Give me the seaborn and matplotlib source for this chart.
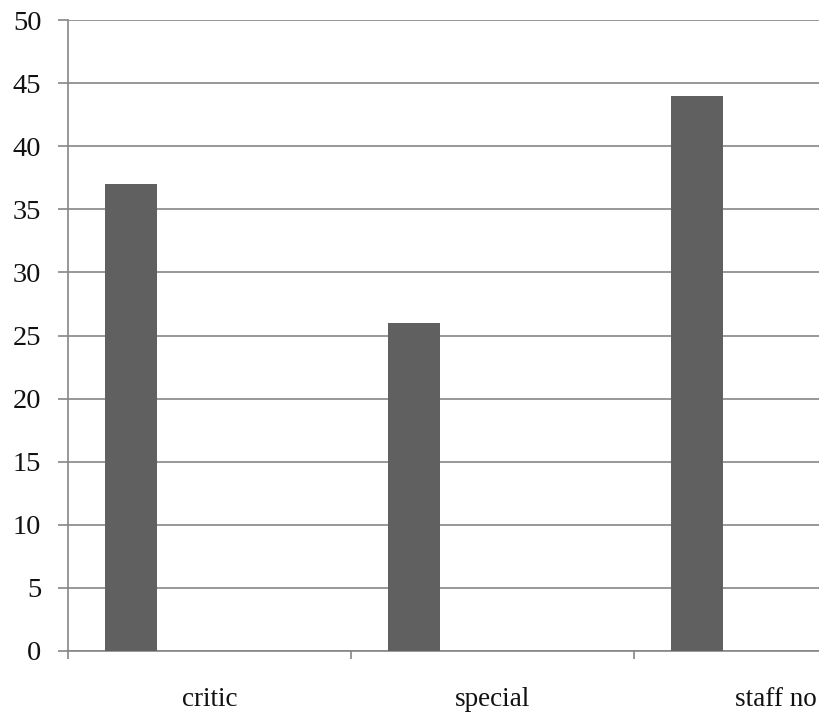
import matplotlib
matplotlib.use("Agg")
import matplotlib.pyplot as plt
from matplotlib.ticker import FixedLocator, MultipleLocator
import seaborn as sns
import pandas as pd

# Chart data
categories = ["critic", "special", "staff no"]
values = [37, 26, 44]
series = ["Series1", "Series2", "Series3", "Series4"]

df = pd.DataFrame({"category": categories, "value": values, "series": series[0]})

sns.set_theme(style="white")
plt.rcParams["font.family"] = ["Liberation Serif", "DejaVu Serif"]

W, H = 819, 713
fig = plt.figure(figsize=(W / 100, H / 100), dpi=100)
ax = fig.add_axes([68 / W, 1 - 651 / H, 1 - 68 / W, (651 - 20) / H])

grid_c = "#868686"
bar_c = "#606060"

sns.barplot(data=df, x="category", y="value", hue="series", hue_order=series,
            order=categories, palette=[bar_c] * 4, width=0.736, dodge=True,
            saturation=1, errorbar=None, legend=False, ax=ax, zorder=3,
            edgecolor="none", linewidth=0)

ax.set_ylim(0, 50)
ax.set_xlim(-0.5, -0.5 + (W - 68) / 283)
ax.yaxis.set_major_locator(MultipleLocator(5))
ax.set_xlabel("")
ax.set_ylabel("")

ax.grid(axis="y", color=grid_c, linewidth=1.2, zorder=0)
ax.grid(axis="x", visible=False)
for side in ["top", "right"]:
    ax.spines[side].set_visible(False)
for side in ["left", "bottom"]:
    ax.spines[side].set_color(grid_c)
    ax.spines[side].set_linewidth(1.2)

ax.tick_params(axis="y", which="major", left=True, length=7.2, width=1.2,
               color=grid_c, labelsize=20.5, pad=12, labelcolor="#111111")
ax.tick_params(axis="x", which="major", bottom=False, length=0,
               labelsize=19.5, pad=26, labelcolor="#111111")
ax.xaxis.set_minor_locator(FixedLocator([-0.5, 0.5, 1.5, 2.5]))
ax.tick_params(axis="x", which="minor", bottom=True, length=6, width=1.2,
               color=grid_c)

fig.savefig("out.png", dpi=100)
